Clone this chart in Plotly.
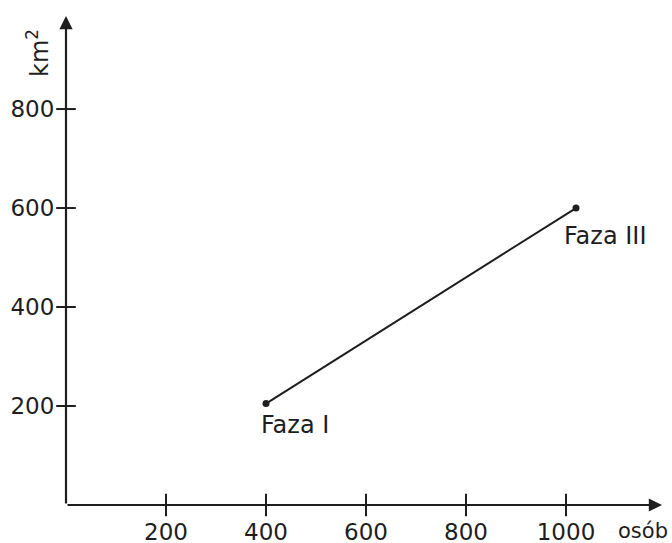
import plotly.graph_objects as go

# Population (osób) vs. area (km²) for two phases
phases = ["Faza I", "Faza III"]
people = [400, 1020]
area_km2 = [205, 600]

x_ticks = [200, 400, 600, 800, 1000]
y_ticks = [200, 400, 600, 800]

X_MAX = 1200
Y_MAX = 990
INK = "#1e1e1e"
FONT = "DejaVu Sans"

fig = go.Figure()

# connecting line with end dots
fig.add_trace(go.Scatter(
    x=people, y=area_km2, mode="lines+markers",
    line=dict(color=INK, width=2),
    marker=dict(color=INK, size=7),
    hoverinfo="skip", showlegend=False,
))

# tick marks crossing the axes
fig.add_trace(go.Scatter(
    x=x_ticks, y=[0] * len(x_ticks), mode="markers",
    marker=dict(symbol="line-ns", size=16, line=dict(color=INK, width=2)),
    cliponaxis=False, hoverinfo="skip", showlegend=False,
))
fig.add_trace(go.Scatter(
    x=[0] * len(y_ticks), y=y_ticks, mode="markers",
    marker=dict(symbol="line-ew", size=14, line=dict(color=INK, width=2)),
    cliponaxis=False, hoverinfo="skip", showlegend=False,
))

# axes drawn as arrows
fig.add_annotation(x=X_MAX - 8, y=0, ax=0, ay=0, xref="x", yref="y",
                   axref="x", ayref="y", showarrow=True, arrowhead=2,
                   arrowsize=1.2, arrowwidth=2.2, arrowcolor=INK, text="")
fig.add_annotation(x=0, y=Y_MAX - 2, ax=0, ay=0, xref="x", yref="y",
                   axref="x", ayref="y", showarrow=True, arrowhead=2,
                   arrowsize=1.2, arrowwidth=2.2, arrowcolor=INK, text="")

# point labels
fig.add_annotation(x=people[0], y=area_km2[0], text=phases[0], showarrow=False,
                   xanchor="left", yanchor="top", xshift=-7, yshift=-5,
                   font=dict(family=FONT, size=24, color=INK))
fig.add_annotation(x=people[1], y=area_km2[1], text=phases[1], showarrow=False,
                   xanchor="left", yanchor="top", xshift=-14, yshift=-12,
                   font=dict(family=FONT, size=24, color=INK))

# axis titles
fig.add_annotation(x=0, y=Y_MAX, text="km<sup>2</sup>", showarrow=False,
                   xanchor="right", yanchor="top", xshift=-10, yshift=-12,
                   textangle=-90, font=dict(family=FONT, size=24, color=INK))
fig.add_annotation(x=X_MAX, y=0, text="osób", showarrow=False,
                   xanchor="right", yanchor="top", xshift=4, yshift=-12,
                   font=dict(family=FONT, size=21, color=INK))

fig.update_layout(
    width=672, height=543,
    margin=dict(l=66, r=6, t=15, b=38),
    paper_bgcolor="white", plot_bgcolor="white",
    font=dict(family=FONT, color=INK, size=23),
    xaxis=dict(range=[0, X_MAX], tickvals=x_ticks, showgrid=False,
               zeroline=False, showline=False, ticks="outside", ticklen=6,
               tickcolor="rgba(0,0,0,0)", automargin=False, fixedrange=True),
    yaxis=dict(range=[0, Y_MAX], tickvals=y_ticks, showgrid=False,
               zeroline=False, showline=False, ticks="outside", ticklen=6,
               tickcolor="rgba(0,0,0,0)", automargin=False, fixedrange=True),
)

fig.write_html("out.html")
